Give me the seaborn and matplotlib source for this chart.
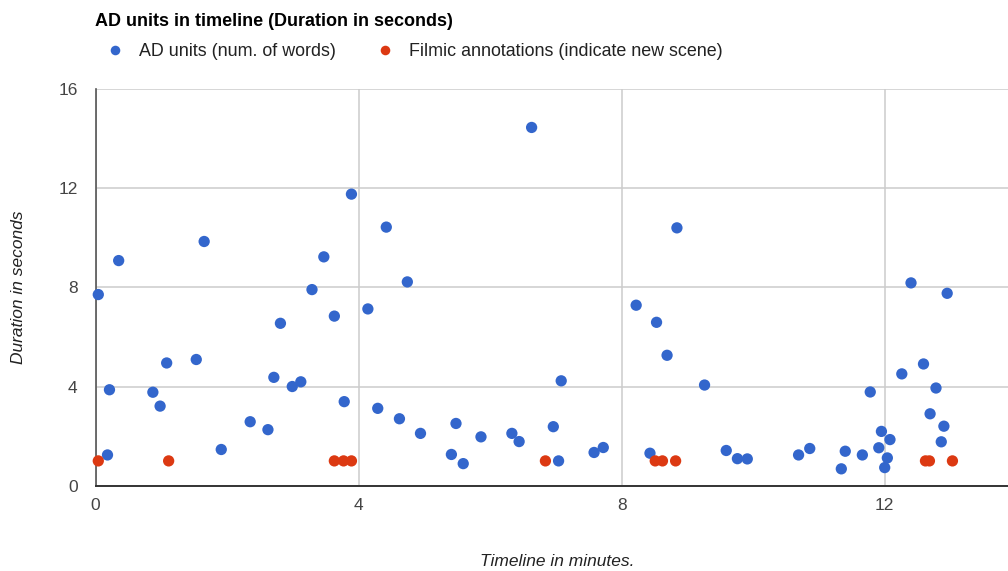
import matplotlib
matplotlib.use("Agg")
import matplotlib.pyplot as plt
import seaborn as sns
import pandas as pd

# ---- data ----
ad_minutes = [0.04, 0.35, 0.21, 0.18, 0.87, 0.98, 1.08, 1.53, 1.65, 1.91,
              2.35, 2.62, 2.71, 2.81, 2.99, 3.12, 3.29, 3.47, 3.63, 3.78,
              3.89, 4.14, 4.42, 4.29, 4.62, 4.74, 4.94, 5.48, 5.41, 5.59,
              5.86, 6.33, 6.44, 6.63, 6.96, 7.04, 7.08, 7.58, 7.72, 8.22,
              8.43, 8.53, 8.69, 8.84, 9.26, 9.59, 9.76, 9.91, 10.69, 10.86,
              11.34, 11.40, 11.66, 11.78, 11.91, 11.95, 12.08, 12.04, 12.00, 12.26,
              12.40, 12.59, 12.78, 12.69, 12.90, 12.86, 12.95]
ad_seconds = [7.71, 9.08, 3.87, 1.24, 3.77, 3.21, 4.95, 5.09, 9.85, 1.46,
              2.58, 2.26, 4.37, 6.55, 4.00, 4.19, 7.91, 9.23, 6.84, 3.39,
              11.76, 7.13, 10.43, 3.12, 2.70, 8.22, 2.11, 2.51, 1.26, 0.89,
              1.97, 2.11, 1.78, 14.45, 2.38, 1.00, 4.23, 1.34, 1.54, 7.28,
              1.31, 6.59, 5.26, 10.40, 4.06, 1.42, 1.09, 1.08, 1.24, 1.50,
              0.68, 1.39, 1.24, 3.78, 1.53, 2.19, 1.86, 1.12, 0.73, 4.51,
              8.18, 4.91, 3.94, 2.90, 2.40, 1.77, 7.76]
film_minutes = [0.04, 1.11, 3.63, 3.77, 3.89, 6.84, 8.51, 8.62, 8.82, 12.62, 12.68, 13.03]
film_seconds = [1.0] * len(film_minutes)

series_names = ["AD units (num. of words)", "Filmic annotations (indicate new scene)"]
series_colors = ["#3366cc", "#dc3912"]
y_ticks = [0, 4, 8, 12, 16]
x_ticks = [0, 4, 8, 12]

df = pd.DataFrame({
    "minutes": ad_minutes + film_minutes,
    "seconds": ad_seconds + film_seconds,
    "series": [series_names[0]] * len(ad_minutes) + [series_names[1]] * len(film_minutes),
})

sns.set_theme(style="white")
plt.rcParams["font.family"] = ["Liberation Sans", "DejaVu Sans"]

fig = plt.figure(figsize=(10.08, 5.71), dpi=100)
ax = fig.add_axes([0.0949, 0.1494, 0.9051, 0.6947])

sns.scatterplot(data=df, x="minutes", y="seconds", hue="series",
                palette=dict(zip(series_names, series_colors)),
                s=66, linewidth=0, ax=ax, zorder=3, clip_on=False)

ax.set_xlim(0, 13.875)
ax.set_ylim(0, 16)
ax.set_xticks(x_ticks)
ax.set_yticks(y_ticks)
ax.set_xticklabels([str(t) for t in x_ticks])
ax.set_yticklabels([str(t) for t in y_ticks])
ax.grid(True, color="#cccccc", linewidth=1.1)
ax.set_axisbelow(True)
ax.tick_params(axis="both", length=0, labelsize=12.5, colors="#444444")
ax.tick_params(axis="x", pad=9)
ax.tick_params(axis="y", pad=13)
for side in ["top", "right"]:
    ax.spines[side].set_visible(False)
ax.spines["left"].set_color("#555555")
ax.spines["left"].set_linewidth(1.2)
ax.spines["bottom"].set_color("#333333")
ax.spines["bottom"].set_linewidth(1.4)
ax.spines["left"].set_zorder(2)

ax.set_xlabel("")
ax.set_ylabel("")
fig.text(557 / 1008, 1 - 562 / 571, "Timeline in minutes.", ha="center", va="center",
         fontsize=12.5, style="italic", color="#222222")
fig.text(19 / 1008, 1 - 287 / 571, "Duration in seconds", ha="center", va="center",
         rotation=90, fontsize=12.5, style="italic", color="#222222")
fig.text(95 / 1008, 1 - 21 / 571, "AD units in timeline (Duration in seconds)",
         ha="left", va="center", fontsize=13, fontweight="bold", color="#000000")

sns.move_legend(ax, "center left", bbox_to_anchor=(97 / 1008, 1 - 52 / 571),
                bbox_transform=fig.transFigure, ncol=2, frameon=False, title=None,
                fontsize=12.9, handletextpad=0.35, columnspacing=1.75,
                markerscale=0.85, borderaxespad=0, borderpad=0)
for t in ax.get_legend().get_texts():
    t.set_color("#222222")

fig.savefig("out.png", dpi=100)
